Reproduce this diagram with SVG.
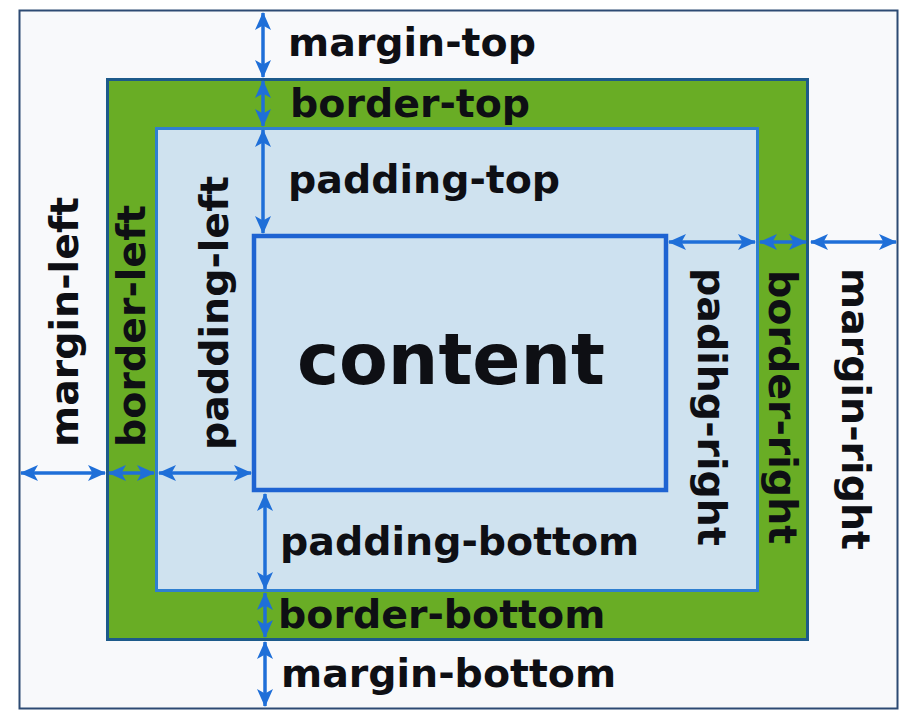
<svg xmlns="http://www.w3.org/2000/svg" width="910" height="728" viewBox="0 0 910 728">
<defs>
<marker id="ah" viewBox="0 0 18 16" refX="17" refY="8" markerWidth="18" markerHeight="16" markerUnits="userSpaceOnUse" orient="auto-start-reverse">
<path d="M0,0 L18,8 L0,16 L4.5,8 z" fill="#1f6fd8"/>
</marker>
<style>
.lbl{font-family:"DejaVu Sans","Verdana",sans-serif;font-weight:bold;font-size:39.5px;fill:#0e0f14}
.arr{stroke:#1f6fd8;stroke-width:3.5;fill:none;marker-start:url(#ah);marker-end:url(#ah)}
</style>
</defs>
<rect x="0" y="0" width="910" height="728" fill="#ffffff"/>
<g id="margin-box">
<rect x="19.5" y="10.5" width="878" height="698" fill="#f8f9fb" stroke="#2d4a73" stroke-width="2"/>
</g>
<g id="border-box">
<rect x="107.5" y="79.5" width="700" height="560" fill="#69ad25" stroke="#1d5a8a" stroke-width="3"/>
</g>
<g id="padding-box">
<rect x="156.5" y="128.5" width="601" height="462" fill="#cfe2ef" stroke="#2f7fd0" stroke-width="3"/>
</g>
<g id="content-box">
<rect x="254" y="236" width="412" height="254" fill="#cde1f0" stroke="#1e63d2" stroke-width="4.5"/>
<text x="297" y="384" class="lbl" style="font-size:71px">content</text>
</g>
<g id="connectors">
<line class="arr" x1="263" y1="13" x2="263" y2="77"/>
<line class="arr" x1="263" y1="81" x2="263" y2="126"/>
<line class="arr" x1="263" y1="130" x2="263" y2="233"/>
<line class="arr" x1="265" y1="494" x2="265" y2="589"/>
<line class="arr" x1="265" y1="593" x2="265" y2="637"/>
<line class="arr" x1="265" y1="642" x2="265" y2="706"/>
<line class="arr" x1="21" y1="473" x2="105" y2="473"/>
<line class="arr" x1="109" y1="473" x2="154" y2="473"/>
<line class="arr" x1="159" y1="473" x2="251" y2="473"/>
<line class="arr" x1="669" y1="242" x2="755" y2="242"/>
<line class="arr" x1="760" y1="242" x2="806" y2="242"/>
<line class="arr" x1="811" y1="242" x2="896" y2="242"/>
</g>
<g id="labels-top-bottom">
<text class="lbl" x="288" y="56">margin-top</text>
<text class="lbl" x="290" y="117">border-top</text>
<text class="lbl" x="288" y="193">padding-top</text>
<text class="lbl" x="280" y="555">padding-bottom</text>
<text class="lbl" x="278" y="628">border-bottom</text>
<text class="lbl" x="281" y="687">margin-bottom</text>
</g>
<g id="labels-left">
<text class="lbl" transform="translate(78,447) rotate(-90)">margin-left</text>
<text class="lbl" transform="translate(145,447) rotate(-90)">border-left</text>
<text class="lbl" transform="translate(228,450) rotate(-90)">padding-left</text>
</g>
<g id="labels-right">
<text class="lbl" transform="translate(698,268) rotate(90)">padihg-right</text>
<text class="lbl" transform="translate(769,270) rotate(90)">border-right</text>
<text class="lbl" transform="translate(842,268) rotate(90)">margin-right</text>
</g>
</svg>
